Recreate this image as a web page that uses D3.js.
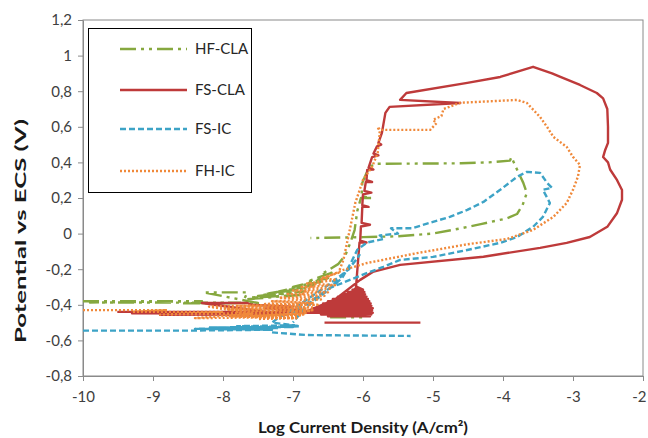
<!DOCTYPE html>
<html><head><meta charset="utf-8">
<script src="https://cdn.jsdelivr.net/npm/d3@7"></script>
<style>body{margin:0;background:#fff}svg{display:block}</style>
</head><body><svg id="c" width="648" height="438"></svg>
<script>
// ---- data ----
const seriesNames = ["HF-CLA","FS-CLA","FS-IC","FH-IC"];
const xTicks = [-10,-9,-8,-7,-6,-5,-4,-3,-2];
const xTickLabels = ["-10","-9","-8","-7","-6","-5","-4","-3","-2"];
const yTicks = [-0.8,-0.6,-0.4,-0.2,0,0.2,0.4,0.6,0.8,1,1.2];
const yTickLabels = ["-0,8","-0,6","-0,4","-0,2","0","0,2","0,4","0,6","0,8","1","1,2"];

// [log current density, potential]  (null = break in the trace)
const hfCla = [
 [-10,-0.38],[-8.3,-0.38],[-9.9,-0.387],[-7.75,-0.388],[-8.6,-0.392],[-7.5,-0.39],
 [-8.28,-0.33],[-7.65,-0.33],[-7.7,-0.37],[-6.9,-0.345],[-7.6,-0.36],[-6.85,-0.325],[-7.5,-0.35],
 [-6.8,-0.305],[-7.4,-0.34],[-6.7,-0.29],[-7.2,-0.325],[-6.6,-0.27],[-7.0,-0.30],[-6.5,-0.25],
 [-6.8,-0.27],[-6.45,-0.22],[-6.6,-0.23],[-6.35,-0.17],[-6.25,-0.12],[-6.18,-0.05],
 [-6.12,0.02],[-6.08,0.13],[-6.03,0.20],[-5.88,0.20],[-6.02,0.21],[-6.01,0.285],[-5.95,0.34],[-5.90,0.375],
 [-5.83,0.392],[-4.6,0.395],[-4.2,0.40],[-3.9,0.41],[-3.88,0.43],[-3.80,0.36],[-3.71,0.285],[-3.66,0.229],
 [-3.72,0.16],[-3.80,0.11],[-3.95,0.085],[-4.3,0.055],[-4.6,0.03],[-5.0,0.0],[-5.5,-0.015],[-6.0,-0.02],[-6.75,-0.025],
 null,
 [-6.37,-0.417],[-5.86,-0.417],null,[-6.47,-0.47],[-5.95,-0.47]
];
const fsCla = [
 [-9.51,-0.44],[-7.0,-0.44],[-9.3,-0.448],[-7.2,-0.45],[-8.9,-0.456],[-7.1,-0.455],[-8.3,-0.39],[-7.65,-0.39],
 [-7.6,-0.40],[-7.0,-0.41],[-7.4,-0.42],[-6.85,-0.43],[-7.2,-0.435],[-6.85,-0.445],
 [-5.86,-0.445],[-6.78,-0.432],[-5.87,-0.432],[-6.71,-0.419],[-5.86,-0.419],[-6.64,-0.406],[-5.88,-0.406],
 [-6.57,-0.393],[-5.89,-0.393],[-6.50,-0.380],[-5.91,-0.380],[-6.43,-0.367],[-5.93,-0.367],[-6.36,-0.354],
 [-5.95,-0.354],[-6.29,-0.341],[-5.97,-0.341],[-6.22,-0.328],[-5.98,-0.328],[-6.15,-0.315],[-6.0,-0.315],
 [-6.08,-0.30],[-6.6,-0.455],[-5.88,-0.455],[-6.5,-0.465],[-5.90,-0.465],[-6.1,-0.30],
 [-6.07,-0.15],[-6.05,-0.05],[-5.95,-0.05],[-6.04,-0.04],[-6.03,0.04],[-5.90,0.05],[-6.02,0.06],[-6.01,0.15],
 [-5.92,0.15],[-6.01,0.16],[-6.00,0.22],[-5.88,0.23],[-5.98,0.24],[-5.96,0.29],[-5.87,0.29],[-5.95,0.30],
 [-5.94,0.358],[-5.85,0.36],[-5.92,0.37],[-5.87,0.43],[-5.78,0.44],[-5.85,0.45],[-5.80,0.49],[-5.74,0.50],
 [-5.78,0.51],[-5.73,0.566],[-5.68,0.678],[-5.62,0.712],[-4.61,0.734],[-5.47,0.751],[-5.38,0.79],
 [-4.51,0.847],[-4.04,0.88],[-3.57,0.937],[-3.3,0.90],[-3.18,0.88],[-2.90,0.835],[-2.66,0.79],[-2.57,0.76],
 [-2.51,0.70],[-2.50,0.60],[-2.50,0.51],[-2.54,0.47],[-2.57,0.43],[-2.50,0.40],[-2.47,0.36],[-2.37,0.30],
 [-2.30,0.245],[-2.30,0.19],[-2.37,0.116],[-2.51,0.038],[-2.76,-0.019],[-3.09,-0.052],[-3.47,-0.08],[-4.28,-0.13],
 [-5.47,-0.176],[-5.86,-0.215],[-6.04,-0.26],[-6.4,-0.37],[-6.82,-0.44],
 null,
 [-6.55,-0.50],[-5.18,-0.50]
];
const fsIc = [
 [-10,-0.545],[-8.5,-0.545],[-7.3,-0.54],[-8.4,-0.535],[-7.2,-0.53],[-8.2,-0.527],[-7.0,-0.525],
 [-7.8,-0.52],[-6.95,-0.515],[-7.5,-0.53],[-6.9,-0.52],[-7.3,-0.50],[-7.2,-0.47],[-7.1,-0.45],
 [-6.8,-0.37],[-6.5,-0.29],[-6.2,-0.20],[-6.05,-0.12],[-6.1,-0.15],[-6.45,-0.30],[-6.75,-0.38],[-7.0,-0.44],
 [-6.9,-0.44],[-6.6,-0.35],[-6.3,-0.25],[-6.18,-0.17],
 [-6.08,-0.09],[-5.94,-0.05],[-5.70,-0.03],[-5.76,-0.01],[-5.50,0.0],[-5.60,0.03],[-5.30,0.03],[-5.0,0.066],
 [-4.76,0.094],[-4.51,0.133],[-4.28,0.178],[-4.04,0.246],[-3.80,0.319],[-3.66,0.347],[-3.47,0.341],
 [-3.37,0.285],[-3.30,0.257],[-3.43,0.246],[-3.33,0.172],[-3.43,0.094],[-3.57,0.038],[-3.80,-0.019],
 [-4.04,-0.052],[-4.51,-0.092],[-5.0,-0.131],[-5.47,-0.148],[-5.71,-0.187],[-5.94,-0.221],[-6.08,-0.243],
 [-6.47,-0.305],[-6.8,-0.40],[-7.0,-0.50],
 null,
 [-7.3,-0.555],[-6.8,-0.57],[-5.32,-0.575]
];
const fhIc = [
 [-10,-0.43],[-8.8,-0.43],[-9.3,-0.44],[-8.0,-0.44],[-8.9,-0.455],[-7.6,-0.45],[-8.4,-0.475],[-7.3,-0.47],
 [-8.2,-0.41],[-7.2,-0.40],[-8.0,-0.42],[-6.9,-0.41],[-7.9,-0.43],[-6.8,-0.42],[-7.8,-0.44],[-6.7,-0.43],
 [-7.7,-0.455],[-6.8,-0.445],[-7.6,-0.465],[-6.9,-0.46],[-7.5,-0.48],[-6.95,-0.475],
 [-7.9,-0.465],[-6.85,-0.455],[-8.1,-0.45],[-6.75,-0.435],[-7.95,-0.425],[-6.7,-0.415],[-7.8,-0.405],
 [-6.65,-0.40],[-7.4,-0.395],
 [-6.7,-0.39],[-7.3,-0.38],[-6.6,-0.37],[-7.2,-0.36],[-6.55,-0.35],[-7.1,-0.34],[-6.5,-0.33],[-7.0,-0.32],
 [-6.45,-0.31],[-6.9,-0.30],[-6.4,-0.29],[-6.8,-0.28],[-6.38,-0.26],[-6.6,-0.25],[-6.35,-0.22],
 [-6.28,-0.148],[-6.18,0.038],[-6.11,0.172],[-6.00,0.302],[-5.87,0.375],[-5.79,0.453],[-5.76,0.566],
 [-5.79,0.60],[-5.76,0.583],[-5.04,0.583],[-4.95,0.62],[-5.0,0.64],[-4.88,0.66],[-4.85,0.70],[-4.78,0.71],
 [-4.61,0.735],[-3.80,0.751],[-3.66,0.734],[-3.47,0.655],[-3.37,0.599],[-3.28,0.543],[-3.09,0.487],
 [-3.00,0.431],[-2.90,0.386],[-2.93,0.319],[-3.00,0.246],[-3.09,0.172],[-3.28,0.094],[-3.57,0.021],
 [-3.94,-0.03],[-4.51,-0.06],[-5.23,-0.11],[-5.94,-0.165],[-6.28,-0.204],[-6.61,-0.26],[-6.9,-0.35]
];
const seriesData = [hfCla, fsCla, fsIc, fhIc];
const seriesColors = ["#86A83F","#BE3A3A","#3DA3C6","#F0893A"];
const seriesDash = ["16,5,3,5,3,5", null, "6,3", "2,2"];

// ---- layout ----
const svg = d3.select("#c");
const L = 83, R = 643, T = 20, B = 376;
const x = d3.scaleLinear().domain([-10,-2]).range([L,R]);
const y = d3.scaleLinear().domain([-0.8,1.2]).range([B,T]);

svg.append("defs").append("clipPath").attr("id","clip")
  .append("rect").attr("x",L).attr("y",T).attr("width",R-L).attr("height",B-T);

svg.append("rect").attr("x",L).attr("y",T).attr("width",R-L).attr("height",B-T)
  .attr("fill","none").attr("stroke","#8a8a8a").attr("stroke-width",1);

const fontFam = "Lato, 'Open Sans', sans-serif";
const xAxis = svg.append("g").attr("transform",`translate(0,${B})`)
  .call(d3.axisBottom(x).tickValues(xTicks).tickFormat((d,i)=>xTickLabels[i]).tickSize(5).tickSizeOuter(0));
const yAxis = svg.append("g").attr("transform",`translate(${L},0)`)
  .call(d3.axisLeft(y).tickValues(yTicks).tickFormat((d,i)=>yTickLabels[i]).tickSize(5).tickSizeOuter(0));
[xAxis,yAxis].forEach(g=>{
  g.selectAll("path,line").attr("stroke","#8a8a8a");
  g.selectAll("text").attr("fill","#404040").style("font-family",fontFam).style("font-size","15px");
});
xAxis.selectAll("text").attr("dy","1.2em");
// last label sits at the right edge of the picture; keep it inside
xAxis.selectAll(".tick").filter(d=>d===-2).select("text")
  .attr("text-anchor","end").attr("x", 646 - x(-2));
yAxis.selectAll("text").attr("x",-11);

// series
const line = d3.line().defined(d=>d!==null).x(d=>x(d[0])).y(d=>y(d[1]));
const plot = svg.append("g").attr("clip-path","url(#clip)");
seriesData.forEach((s,i)=>{
  plot.append("path").datum(s).attr("d",line).attr("fill","none")
    .attr("stroke",seriesColors[i]).attr("stroke-width",2.4)
    .attr("stroke-linejoin","round")
    .attr("stroke-dasharray",seriesDash[i]);
});

// legend
const lg = svg.append("g");
lg.append("rect").attr("x",88.5).attr("y",28.5).attr("width",163).attr("height",164)
  .attr("fill","#fff").attr("stroke","#000").attr("stroke-width",1);
const legY = [49,90,129,171];
seriesNames.forEach((n,i)=>{
  lg.append("line").attr("x1",120).attr("x2",187).attr("y1",legY[i]).attr("y2",legY[i])
    .attr("stroke",seriesColors[i]).attr("stroke-width",2.4).attr("stroke-dasharray",seriesDash[i]);
  lg.append("text").attr("x",195).attr("y",legY[i]+5).text(n)
    .attr("fill","#262626").style("font-family",fontFam).style("font-size","15px");
});

// titles
svg.append("text").attr("x",(L+R)/2).attr("y",433).attr("text-anchor","middle")
  .style("font-family",fontFam).style("font-size","15px").style("font-weight","bold").attr("fill","#1a1a1a")
  .attr("textLength",210).attr("lengthAdjust","spacingAndGlyphs")
  .text("Log Current Density (A/cm²)");
svg.append("text").attr("transform","translate(26,231) rotate(-90)").attr("text-anchor","middle")
  .style("font-family",fontFam).style("font-size","15px").style("font-weight","bold").attr("fill","#1a1a1a")
  .attr("textLength",224).attr("lengthAdjust","spacingAndGlyphs")
  .text("Potential vs ECS (V)");
</script></body></html>
